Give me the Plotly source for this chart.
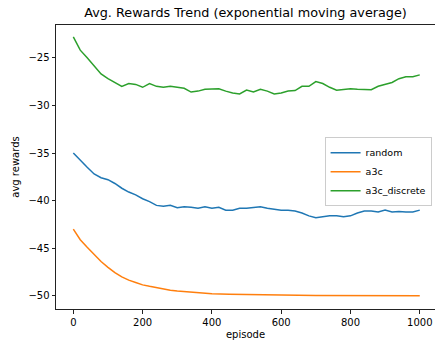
import plotly.graph_objects as go

# ---- data ----
green_ep = [0, 20, 40, 60, 80, 100, 120, 140, 160, 180, 200, 220, 240, 260, 280, 300,
            320, 340, 360, 380, 400, 420, 440, 460, 480, 500, 520, 540, 560, 580, 600,
            620, 640, 660, 680, 700, 720, 740, 760, 780, 800, 820, 840, 860, 880, 900,
            920, 940, 960, 980, 1000]
green_val = [-22.8, -24.2, -25.0, -25.9, -26.7, -27.2, -27.6, -28.0, -27.7, -27.8, -28.1,
             -27.7, -28.0, -28.1, -28.0, -28.1, -28.2, -28.6, -28.5, -28.3, -28.3, -28.25,
             -28.5, -28.7, -28.8, -28.4, -28.6, -28.3, -28.5, -28.8, -28.7, -28.5, -28.45,
             -28.0, -28.0, -27.5, -27.7, -28.1, -28.4, -28.3, -28.25, -28.3, -28.3, -28.35,
             -28.0, -27.8, -27.6, -27.2, -27.0, -27.0, -26.8]

random_ep = green_ep
random_val = [-35.0, -35.8, -36.5, -37.2, -37.6, -37.8, -38.2, -38.7, -39.1, -39.4, -39.8,
              -40.1, -40.5, -40.6, -40.5, -40.75, -40.65, -40.7, -40.8, -40.65, -40.8, -40.7,
              -41.0, -41.0, -40.8, -40.8, -40.7, -40.65, -40.8, -40.9, -41.0, -41.0, -41.1,
              -41.3, -41.6, -41.8, -41.7, -41.6, -41.6, -41.7, -41.6, -41.3, -41.1, -41.1,
              -41.2, -41.0, -41.2, -41.15, -41.2, -41.2, -41.0]

a3c_ep = [0, 20, 40, 60, 80, 100, 120, 140, 160, 180, 200, 220, 240, 260, 280, 300,
          330, 360, 400, 450, 500, 600, 700, 800, 900, 1000]
a3c_val = [-43.0, -44.1, -44.9, -45.7, -46.4, -47.0, -47.55, -48.0, -48.35, -48.6, -48.85,
           -49.0, -49.15, -49.3, -49.4, -49.5, -49.6, -49.7, -49.78, -49.83, -49.88, -49.92,
           -49.95, -49.97, -49.98, -49.98]

x_ticks = [0, 200, 400, 600, 800, 1000]
y_ticks = [-50, -45, -40, -35, -30, -25]
y_tick_text = ["\u221250", "\u221245", "\u221240", "\u221235", "\u221230", "\u221225"]

FONT = "DejaVu Sans"

fig = go.Figure()
fig.add_trace(go.Scatter(x=random_ep, y=random_val, mode="lines", name="random",
                         line=dict(color="#1f77b4", width=1.5)))
fig.add_trace(go.Scatter(x=a3c_ep, y=a3c_val, mode="lines", name="a3c",
                         line=dict(color="#ff7f0e", width=1.5)))
fig.add_trace(go.Scatter(x=green_ep, y=green_val, mode="lines", name="a3c_discrete",
                         line=dict(color="#2ca02c", width=1.5)))

fig.update_layout(
    width=435, height=341,
    margin=dict(l=56, r=0, t=25, b=32),
    paper_bgcolor="white", plot_bgcolor="white",
    font=dict(family=FONT, size=10, color="#000000"),
    title=dict(text="Avg. Rewards Trend (exponential moving average)",
               font=dict(family=FONT, size=12.8, color="#000000"),
               x=0.5, xref="paper", xanchor="center",
               y=1 - 13 / 341, yref="container", yanchor="middle"),
    showlegend=True,
    legend=dict(x=0.991, y=0.605, xanchor="right", yanchor="top",
                bgcolor="rgba(255,255,255,0.8)", bordercolor="#cccccc", borderwidth=1,
                font=dict(family=FONT, size=9.5, color="#000000"),
                itemwidth=30),
    xaxis=dict(range=[-50, 1044], tickvals=x_ticks, showgrid=False, zeroline=False,
               showline=True, linecolor="#222222", linewidth=1, mirror=True,
               ticks="outside", ticklen=3.5, tickcolor="#222222",
               tickfont=dict(family=FONT, size=10, color="#000000"),
               title=dict(text="episode", standoff=4,
                          font=dict(family=FONT, size=10, color="#000000"))),
    yaxis=dict(range=[-51.38, -21.56], tickvals=y_ticks, ticktext=y_tick_text,
               showgrid=False, zeroline=False,
               showline=True, linecolor="#222222", linewidth=1,
               ticks="outside", ticklen=3.5, tickcolor="#222222",
               tickfont=dict(family=FONT, size=10, color="#000000"),
               title=dict(text="avg rewards", standoff=6,
                          font=dict(family=FONT, size=10, color="#000000"))),
)

fig.write_html("out.html", config={"displayModeBar": False},
               post_script="document.body.style.margin='0';document.body.style.overflow='hidden';")
